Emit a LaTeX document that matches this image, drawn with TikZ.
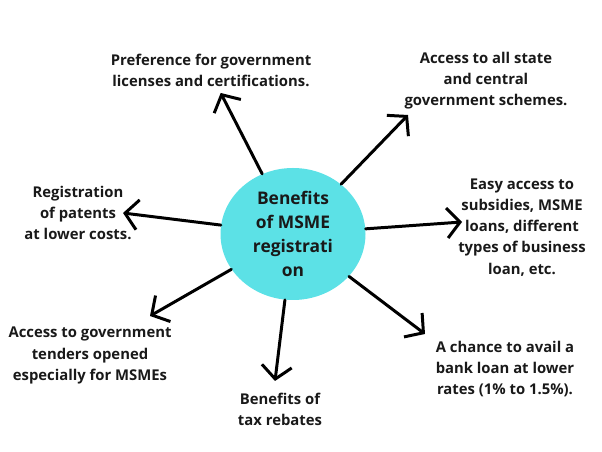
\documentclass[tikz,border=0pt]{standalone}
\usepackage{fontspec}
\setmainfont{Open Sans}
\usetikzlibrary{arrows.meta,shapes.geometric}
\definecolor{turq}{HTML}{5CE1E6}
\begin{document}
\begin{tikzpicture}[
  lbl/.style={align=center, font=\bfseries\fontsize{8.45}{12}\selectfont, text=black!90},
  arr/.style={>={Straight Barb[length=0.26cm, width=0.6cm]}, ->, line width=1.7pt, line cap=round, line join=round}
]
\useasboundingbox (0,0) rectangle (12.04,9.04) ;

\node[ellipse, fill=turq, minimum width=2.9cm, minimum height=2.64cm, inner sep=0pt, align=center, font=\bfseries\fontsize{9.9}{13.7}\selectfont, text=black!90] (msme) at (5.86,4.36) {Benefits\\of MSME\\registrati\\on} ;

\node[lbl] (pref) at (4.22,7.63) {Preference for government\\licenses and certifications.} ;
\node[lbl] (state) at (9.72,7.42) {Access to all state\\and central\\government schemes.} ;
\node[lbl] (patent) at (1.56,4.78) {Registration\\of patents\\at lower costs.} ;
\node[lbl] (loans) at (10.44,4.49) {Easy access to\\subsidies, MSME\\loans, different\\types of business\\loan, etc.} ;
\node[lbl] (tender) at (1.80,1.93) {Access to government\\tenders opened\\especially for MSMEs} ;
\node[lbl] (tax) at (5.60,0.86) {Benefits of\\tax rebates} ;
\node[lbl] (bank) at (10.10,1.66) {A chance to avail a\\bank loan at lower\\rates (1\% to 1.5\%).} ;

\coordinate (tpref) at (4.414,7.18) ;
\coordinate (tstate) at (8.16,6.74) ;
\coordinate (tpatent) at (2.46,4.78) ;
\coordinate (tloans) at (9.24,4.60) ;
\coordinate (ttender) at (3.00,2.72) ;
\coordinate (ttax) at (5.50,1.42) ;
\coordinate (tbank) at (8.50,2.36) ;

\draw[arr] (msme) -- (tpref) ;
\draw[arr] (msme) -- (tstate) ;
\draw[arr] (msme) -- (tpatent) ;
\draw[arr] (msme) -- (tloans) ;
\draw[arr] (msme) -- (ttender) ;
\draw[arr] (msme) -- (ttax) ;
\draw[arr] (msme) -- (tbank) ;
\end{tikzpicture}
\end{document}
